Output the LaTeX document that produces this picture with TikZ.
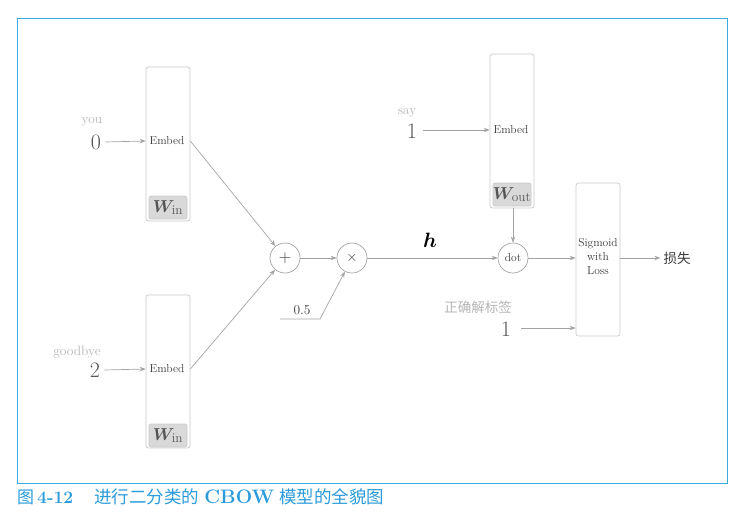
\documentclass[tikz,border=0pt]{standalone}
\usepackage{fontspec}
\usepackage{amsmath}
\usepackage{bm}
\newfontfamily\cjk{Noto Sans CJK SC}
\usetikzlibrary{arrows.meta}
\definecolor{framec}{HTML}{3AAAE2}
\definecolor{capc}{HTML}{2A9BDB}
\definecolor{linec}{HTML}{A3A3A3}
\definecolor{boxc}{HTML}{C9C9C9}
\definecolor{wfill}{HTML}{D9D9D9}
\definecolor{txtc}{HTML}{3A3A3A}
\definecolor{lblc}{HTML}{B5B5B5}
\definecolor{numc}{HTML}{555555}
\tikzset{
  layerbox/.style={draw=boxc, line width=0.7pt, rounded corners=2.5pt, minimum width=44pt, inner sep=0pt},
  wbox/.style={draw=boxc, fill=wfill, line width=0.6pt, rounded corners=2pt, minimum width=38pt, minimum height=23pt, inner sep=0pt, text=numc},
  optext/.style={text=txtc, font=\fontsize{11.5}{13}\selectfont, inner sep=0pt},
  opcirc/.style={circle, draw=linec, line width=0.7pt, minimum size=30pt, inner sep=0pt, text=txtc},
  numtext/.style={text=numc, font=\fontsize{22}{24}\selectfont, inner sep=0pt},
  wordtext/.style={text=lblc, font=\fontsize{13.5}{14}\selectfont, inner sep=0pt},
  conn/.style={draw=linec, line width=0.7pt},
  arr/.style={conn, -{Stealth[length=6pt,width=4.5pt]}},
}
\begin{document}
\begin{tikzpicture}[x=1pt,y=-1pt]
\useasboundingbox (0,0) rectangle (738,525);
% frame and caption
\draw[framec, line width=0.8pt] (17,18) rectangle (727,483);
\node[anchor=west, text=capc, inner sep=0pt] (cap) at (17,497)
  {{\cjk\fontsize{17}{19}\selectfont 图}\hspace{3pt}{\fontsize{17.5}{19}\selectfont\bfseries 4-12}\hspace{21pt}{\cjk\fontsize{17.5}{19}\selectfont 进行二分类的}\hspace{5pt}{\fontsize{19.5}{21}\selectfont\bfseries CBOW}\hspace{5pt}{\cjk\fontsize{17.5}{19}\selectfont 模型的全貌图}};

% input embedding layers
\node[layerbox, minimum height=154pt] (b1) at (168,144) {};
\node[optext] (e1) at (167,141) {Embed};
\node[wbox] (w1) at (168,207.5) {\fontsize{19}{20}\selectfont$\bm{W}_{\mathrm{in}}$};
\node[layerbox, minimum height=153pt] (b2) at (168,371.5) {};
\node[optext] (e2) at (167,369) {Embed};
\node[wbox] (w2) at (168,435.5) {\fontsize{19}{20}\selectfont$\bm{W}_{\mathrm{in}}$};

\node[wordtext] (you) at (92,122) {you};
\node[numtext] (n0) at (96,142) {0};
\node[wordtext] (gb) at (77,352) {goodbye};
\node[numtext] (n2) at (95,370) {2};
\draw[arr] (n0.east) ++(4,0) coordinate (n0s) -- (b1.west |- e1);
\draw[arr] (n2.east) ++(4,0) coordinate (n2s) -- (b2.west |- e2);

% sum and scale
\node[opcirc, font=\fontsize{17}{17}\selectfont] (plus) at (285,258) {$+$};
\node[opcirc, font=\fontsize{15}{16}\selectfont] (times) at (352,258) {$\times$};
\draw[arr] (b1.east |- e1) -- (plus);
\draw[arr] (b2.east |- e2) -- (plus);
\draw[arr] (plus) -- (times);
\coordinate (hs) at (280,319);
\coordinate (hk) at (320,319);
\node[text=txtc, font=\fontsize{13.5}{14}\selectfont, inner sep=0pt] (half) at (302,310) {0.5};
\draw[arr] (hs) -- (hk) -- (times);

% output embedding
\node[layerbox, minimum height=154pt] (b3) at (512,131) {};
\node[optext] (e3) at (511,130) {Embed};
\node[wbox] (w3) at (512,194.5) {\fontsize{19}{20}\selectfont$\bm{W}_{\mathrm{out}}$};
\node[wordtext] (say) at (407,113) {say};
\node[numtext] (n1) at (412,131) {1};
\draw[arr] (n1.east) ++(6,-1) coordinate (n1s) -- (b3.west |- e3);

% dot product and loss
\node[opcirc, font=\fontsize{11.5}{13}\selectfont] (dot) at (513,258) {dot};
\node[font=\fontsize{20}{22}\selectfont, inner sep=0pt] (h) at (430,240) {$\bm{h}$};
\draw[arr] (times) -- (dot);
\draw[arr] (b3.south -| dot) -- (dot);
\node[layerbox, minimum height=153pt] (sig) at (598,259.5) {};
\node[optext, align=center, font=\fontsize{11.5}{14}\selectfont] (sigt) at (598,257) {Sigmoid\\with\\Loss};
\draw[arr] (dot) -- (sig.west |- dot);
\node[text=lblc, font=\fontsize{13.5}{14}\selectfont\cjk, inner sep=0pt] (lab) at (478,307) {正确解标签};
\node[numtext] (n1b) at (506,329) {1};
\draw[arr] (n1b.east) ++(10,-1) coordinate (n1bs) -- (sig.west |- n1bs);
\node[text=txtc, font=\fontsize{13.5}{14}\selectfont\cjk, inner sep=0pt] (loss) at (677,258) {损失};
\draw[arr] (sig.east |- dot) -- ++(40,0) coordinate (lossend);
\end{tikzpicture}
\end{document}
